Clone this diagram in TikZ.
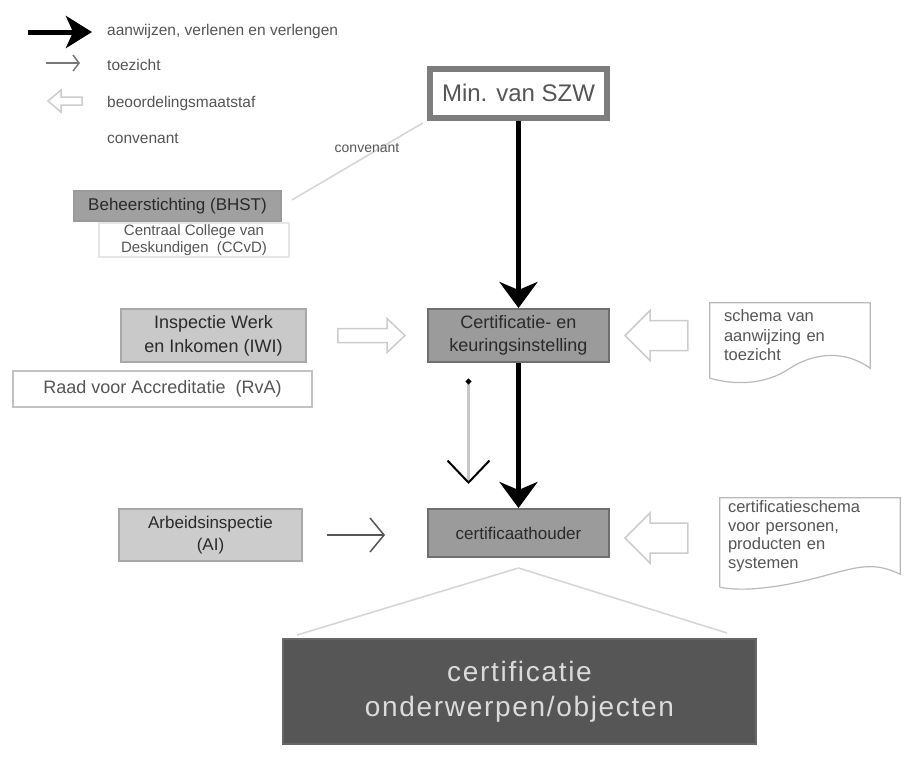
\documentclass[tikz,border=0pt]{standalone}
\usepackage{fontspec}
\setmainfont{Liberation Sans}
\newfontfamily\spacedfont[LetterSpace=6]{Liberation Sans}
\usetikzlibrary{arrows.meta,calc}
\definecolor{midgray}{HTML}{9B9B9B}
\definecolor{midborder}{HTML}{6F6F6F}
\definecolor{lightbox}{HTML}{C9C9C9}
\definecolor{lightborder}{HTML}{A8A8A8}
\definecolor{darkbox}{HTML}{565656}
\definecolor{txtdark}{HTML}{2A2A2A}
\definecolor{txtgray}{HTML}{555555}
\definecolor{hollowgray}{HTML}{CCCCCC}
\definecolor{faintgray}{HTML}{D6D6D6}
\newcommand\hollowarrow[5]{%
  \draw[hollow] let \p1=(#1), \p2=(#2), \p3=($(#2)!#5!(#1)$) in
    (\x1,{\y1+#3}) -- (\x3,{\y1+#3}) -- (\x3,{\y1+#4}) -- (\x2,\y1)
    -- (\x3,{\y1-#4}) -- (\x3,{\y1-#3}) -- (\x1,{\y1-#3}) -- cycle;}
\begin{document}
\begin{tikzpicture}[x=1pt,y=-1pt,
  every node/.style={inner sep=0pt, align=center},
  basebox/.style={rectangle, draw, text=txtdark},
  minbox/.style={basebox, draw=midborder!90, line width=6pt, fill=white,
    minimum width=177pt, minimum height=49pt, text=txtgray,
    font=\fontsize{24}{26}\selectfont},
  darkgraybox/.style={basebox, fill=midgray, draw=midborder, line width=2pt,
    minimum width=181pt, font=\fontsize{18}{23}\selectfont},
  palebox/.style={basebox, fill=lightbox, draw=lightborder, line width=1.5pt,
    font=\fontsize{18}{24}\selectfont},
  whitebox/.style={basebox, fill=white, draw=lightborder!70, line width=1.2pt,
    text=txtgray},
  doctext/.style={rectangle, align=left, text=txtgray,
    font=\fontsize{16.5}{19.5}\selectfont},
  docshape/.style={draw=lightborder!80, line width=1.2pt},
  legtext/.style={anchor=west, text=txtgray, font=\fontsize{15.5}{17}\selectfont},
  bigarrow/.style={line width=5pt, black,
    -{Stealth[length=26pt, width=38pt, inset=8pt]}},
  legbigarrow/.style={line width=5pt, black,
    -{Stealth[length=26pt, width=32pt, inset=7pt]}},
  toez/.style={line width=1.5pt, draw=txtgray,
    -{Straight Barb[length=14pt, width=34pt, line width=1.5pt]}},
  hollow/.style={draw=hollowgray, line width=1.5pt, fill=white},
  faint/.style={draw=faintgray, line width=1.6pt}
]
\path[use as bounding box] (0,0) rectangle (911,758);

% ---------- legend ----------
\coordinate (l1a) at (28,32);
\coordinate (l1b) at (92,32);
\draw[legbigarrow] (l1a) -- (l1b);
\node[legtext] (lt1) at (107,31) {aanwijzen, verlenen en verlengen};

\coordinate (l2a) at (46,63);
\coordinate (l2b) at (80,63);
\draw[line width=2pt, draw=txtgray!80,
  -{Straight Barb[length=6pt, width=16pt, line width=1.5pt]}] (l2a) -- (l2b);
\node[legtext] (lt2) at (107,65) {toezicht};

\coordinate (l3a) at (82,101);
\coordinate (l3b) at (48,101);
\hollowarrow{l3a}{l3b}{4pt}{11pt}{13pt}
\node[legtext] (lt3) at (107,103) {beoordelingsmaatstaf};

\node[legtext] (lt4) at (107,139) {convenant};

% ---------- main nodes ----------
\node[minbox] (min) at (518.5,93) {Min. van SZW};
\node[darkgraybox, minimum height=53pt] (cert) at (518.5,335.5)
  {Certificatie- en\\keuringsinstelling};
\node[darkgraybox, minimum height=48pt, font=\fontsize{17}{20}\selectfont]
  (holder) at (518.5,533) {certificaathouder};

\node[basebox, fill=midgray!95, draw=midborder!70, line width=1.5pt,
  minimum width=207pt, minimum height=30pt, font=\fontsize{17}{20}\selectfont]
  (bhst) at (177.5,206) {Beheerstichting (BHST)};
\node[whitebox, draw=faintgray!60, minimum width=190pt, minimum height=34pt,
  font=\fontsize{15}{17}\selectfont] (ccvd) at (194,240)
  {Centraal College van\\Deskundigen\ \ (CCvD)};

\node[palebox, minimum width=185pt, minimum height=53pt] (iwi) at (213.5,335.5)
  {Inspectie Werk\\en Inkomen (IWI)};
\node[whitebox, minimum width=299pt, minimum height=36pt,
  font=\fontsize{18}{20}\selectfont] (rva) at (162.5,389)
  {Raad voor Accreditatie\ \ (RvA)};

\node[palebox, fill=lightbox!95, minimum width=183pt, minimum height=52pt,
  font=\fontsize{17}{22}\selectfont] (ai) at (210.5,535)
  {Arbeidsinspectie\\(AI)};

\node[basebox, fill=darkbox, draw=darkbox!90!white, line width=2pt,
  minimum width=473pt, minimum height=105pt, text=white!86!black,
  font=\spacedfont\fontsize{28}{35}\selectfont] (big) at (519.5,691.5)
  {certificatie\\onderwerpen/objecten};

% ---------- documents ----------
\node[doctext, minimum width=160pt, minimum height=65pt, text width=132pt,
  inner xsep=14pt] (doc1) at (790,335.5)
  {schema van\\aanwijzing en\\toezicht};
\draw[docshape] (doc1.south west) ++(0,10) -- (doc1.north west)
  -- (doc1.north east) -- (doc1.south east)
  .. controls +(-25,-18) and +(25,-16) .. (doc1.south)
  .. controls +(-25,17) and +(25,7) .. ($(doc1.south west)+(0,10)$);

\node[doctext, minimum width=180pt, minimum height=76pt, text width=164pt,
  inner xsep=8pt, font=\fontsize{16.5}{18.5}\selectfont] (doc2) at (810,536)
  {certificatieschema\\voor personen,\\producten en\\systemen};
\draw[docshape] (doc2.south west) ++(0,13) -- (doc2.north west)
  -- (doc2.north east) -- (doc2.south east)
  .. controls +(-25,-12) and +(30,-8) .. ($(doc2.south)+(20,0)$)
  .. controls +(-35,10) and +(30,6) .. ($(doc2.south west)+(0,13)$);

% ---------- connectors ----------
\draw[bigarrow] (min.south) -- (cert.north);
\draw[bigarrow] (cert.south) -- (holder.north);

\coordinate (cdot) at ($(cert.south)+(-50,16)$);
\draw[line width=3pt, draw=black!22, shorten >=24pt,
  {Circle[length=5pt, black]}-{Straight Barb[length=22pt, width=42pt, line width=2pt, black]}]
  (cdot) -- (cdot |- holder.north);

\draw[toez, shorten <=24pt, shorten >=42pt] (ai.east) -- (ai.east -| holder.west);

\coordinate (h1t) at ($(iwi.east)+(31,0)$);
\coordinate (h1h) at ($(cert.west)+(-22,0)$);
\hollowarrow{h1t}{h1h}{7pt}{17pt}{18pt}

\coordinate (h2t) at ($(doc1.west)+(-22,0)$);
\coordinate (h2h) at ($(cert.east)+(15,0)$);
\hollowarrow{h2t}{h2h}{15pt}{25pt}{25pt}

\coordinate (h3t) at ($(doc2.west |- holder.east)+(-32,5)$);
\coordinate (h3h) at ($(holder.east)+(15,5)$);
\hollowarrow{h3t}{h3h}{15pt}{25pt}{25pt}

\draw[faint, shorten <=12pt, shorten >=5pt] (bhst.east) -- (min.south west);
\node[text=txtgray, font=\fontsize{14}{16}\selectfont] (convlabel) at (367,148)
  {convenant};

\coordinate (hb) at ($(holder.south)+(0,10)$);
\draw[faint] (hb) -- ($(big.north west)+(15,-3)$);
\draw[faint] (hb) -- ($(big.north east)+(-30,-5)$);
\end{tikzpicture}
\end{document}
